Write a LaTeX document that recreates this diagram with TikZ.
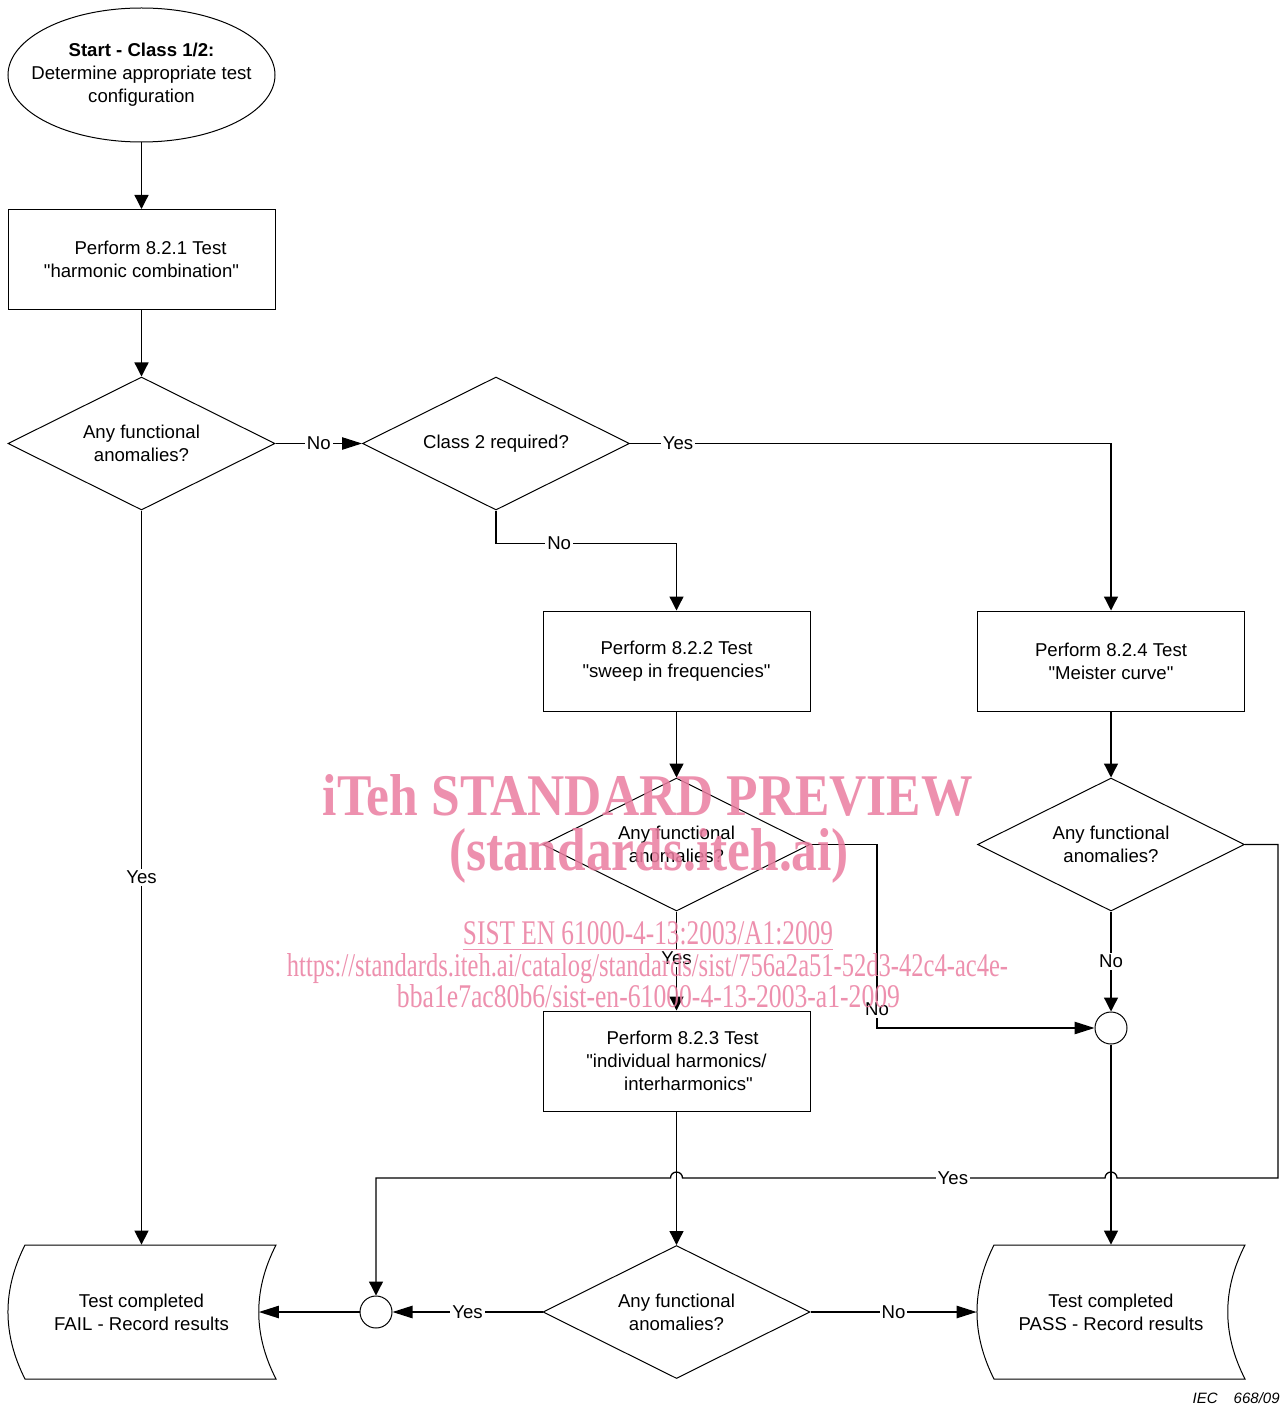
\documentclass[tikz,border=0pt]{standalone}
\usepackage{fontspec}
\setmainfont{Liberation Sans}[Ligatures=TeXOff]
\newfontfamily\wmfont{Liberation Serif}
\usetikzlibrary{shapes.geometric,arrows.meta,calc}
\definecolor{wmpink}{RGB}{235,125,160}
\tikzset{
  txt/.style={font=\fontsize{9.3}{11.5}\selectfont, align=center},
  base/.style={txt, draw, line width=0.5pt, inner sep=0pt},
  proc/.style={base, rectangle, minimum width=133.5pt, minimum height=50pt},
  dec/.style={base, diamond, aspect=2, minimum width=133.5pt, minimum height=66.5pt},
  term/.style={txt, rectangle, minimum width=134pt, minimum height=67pt, inner sep=0pt},
  startbox/.style={txt, rectangle, minimum width=133.5pt, minimum height=67pt, inner sep=0pt},
  termline/.style={line width=0.5pt},
  junc/.style={draw, circle, minimum size=16pt, inner sep=0pt, line width=0.5pt},
  conn/.style={line width=0.65pt},
  av/.style={conn, -{Triangle[length=7pt,width=7pt]}},
  ah/.style={conn, -{Triangle[length=10pt,width=6.2pt]}},
  lbl/.style={txt, fill=white, inner sep=1pt},
  wm/.style={text=wmpink, font=\wmfont, opacity=0.85, anchor=base, inner sep=0pt},
}
\begin{document}
\begin{tikzpicture}[x=0.5pt,y=-0.5pt]
\useasboundingbox[fill=white] (0,0) rectangle (1282,1407);

% nodes
\node[startbox] (start) at (141.5,75)
  {\textbf{Start - Class 1/2:}\\Determine appropriate test\\configuration};
\draw[termline] (start.center) ellipse [x radius=133.5, y radius=67];
\node[proc] (b1) at (141.5,259.5) {\hspace{9pt}Perform 8.2.1 Test\\"harmonic combination"};
\node[dec] (d1) at (141.5,443.5) {Any functional\\anomalies?};
\node[dec] (d2) at (496,443.5) {Class 2 required?};
\node[proc] (b2) at (676.5,661) {Perform 8.2.2 Test\\"sweep in frequencies"};
\node[proc] (b4) at (1111,661) {Perform 8.2.4 Test\\"Meister curve"};
\node[dec] (d3) at (676.5,844.5) {Any functional\\anomalies?};
\node[dec] (d4) at (1111,844.5) {Any functional\\anomalies?};
\node[proc] (b3) at (676.5,1061) {\hspace{6pt}Perform 8.2.3 Test\\"individual harmonics/\hspace{4pt}\\\hspace{12pt}interharmonics"};
\node[junc] (cR) at (1111,1028) {};
\node[dec] (d5) at (676.5,1312) {Any functional\\anomalies?};
\node[junc] (cL) at (376,1312) {};
\node[term] (fail) at (141.5,1312) {Test completed\\FAIL - Record results};
\node[term] (pass) at (1111,1312) {Test completed\\PASS - Record results};

% terminal outlines
\draw[termline] (25,1245) -- (276,1245) .. controls (253,1290) and (253,1334) .. (276,1379)
  -- (25,1379) .. controls (2.3,1334) and (2.3,1290) .. (25,1245) -- cycle;
\draw[termline] (994,1245) -- (1245,1245) .. controls (1222,1290) and (1222,1334) .. (1245,1379)
  -- (994,1379) .. controls (971.3,1334) and (971.3,1290) .. (994,1245) -- cycle;

% connectors
\draw[av] (start) -- (b1);
\draw[av] (b1) -- (d1);
\draw[ah] (d1.east) -- node[lbl]{No} (d2.west);
\draw[av] (d1.south) -- node[lbl]{Yes} (fail.north);
\draw[av] (d2.east) -- node[lbl,pos=0.1]{Yes} (b4.north |- d2.east) -- (b4.north);
\draw[av] (d2.south) -- (496,543.5) -- node[lbl,pos=0.35]{No} (676.5,543.5) -- (b2.north);
\draw[av] (b2) -- (d3);
\draw[av] (d3.south) -- node[lbl,pos=0.47]{Yes} (b3.north);
\draw[ah] (d3.east) -- (877,844.5) -- node[lbl,pos=0.9]{No} (877,1028) -- (cR.west);
\draw[av] (b4) -- (d4);
\draw[av] (d4.south) -- node[lbl]{No} (cR.north);
\draw[av] (cR.south) -- (pass.north);
\draw[av] (b3.south) -- (d5.north);
\draw[ah] (d5.west) -- node[lbl]{Yes} (cL.east);
\draw[ah] (d5.east) -- node[lbl]{No} (pass.west);
\draw[ah] (cL.west) -- ([xshift=-8.5pt]fail.east);
\draw[av] (d4.east) -- (1278,844.5) -- (1278,1178) -- (1117,1178)
  arc[start angle=0, end angle=-180, radius=6]
  -- node[lbl,pos=0.36]{Yes} (682.5,1178)
  arc[start angle=0, end angle=-180, radius=6]
  -- (376,1178) -- (cL.north);

% reference label
\node[anchor=base east, font=\fontsize{7.5}{9}\selectfont\itshape, inner sep=0pt] (iec) at (1280,1403) {IEC\hspace{8pt}668/09};

% watermark
\node[wm] (wm1) at (648,815) {\resizebox{325pt}{20.5pt}{\bfseries iTeh STANDARD PREVIEW}};
\node[wm] (wm2) at (649,870) {\resizebox{200pt}{21pt}{\bfseries (standards.iteh.ai)}};
\node[wm] (wm3) at (648,944) {\resizebox{185pt}{11.5pt}{\underline{SIST EN 61000-4-13:2003/A1:2009}}};
\node[wm] (wm4) at (647.5,976) {\resizebox{360.5pt}{11.5pt}{https://standards.iteh.ai/catalog/standards/sist/756a2a51-52d3-42c4-ac4e-}};
\node[wm] (wm5) at (648.5,1007) {\resizebox{251.5pt}{11.5pt}{bba1e7ac80b6/sist-en-61000-4-13-2003-a1-2009}};
\end{tikzpicture}
\end{document}
